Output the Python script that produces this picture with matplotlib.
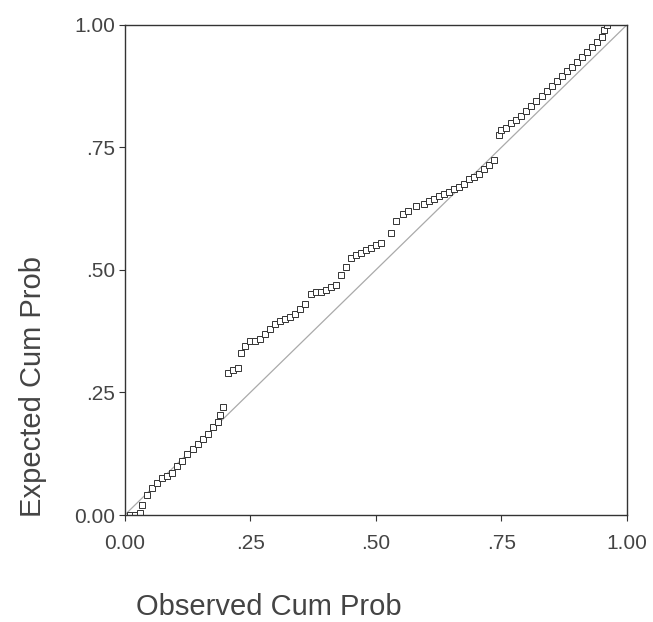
import numpy as np
import matplotlib.pyplot as plt

# Observed vs expected cumulative probabilities
observed = [0.010, 0.020, 0.030, 0.035,
            0.045, 0.055, 0.065, 0.075, 0.085, 0.095, 0.105, 0.115, 0.125,
            0.135, 0.145, 0.155, 0.165, 0.175, 0.185, 0.190, 0.195,
            0.205, 0.215, 0.225, 0.232, 0.240, 0.250, 0.260, 0.270, 0.280,
            0.290, 0.300, 0.310, 0.320, 0.330, 0.340, 0.350, 0.360,
            0.370, 0.380, 0.390, 0.400, 0.410, 0.420,
            0.430, 0.440, 0.450, 0.460, 0.470, 0.480, 0.490, 0.500, 0.510,
            0.530, 0.540, 0.555, 0.565, 0.580,
            0.595, 0.605, 0.615, 0.625, 0.635, 0.645, 0.655, 0.665, 0.675,
            0.685, 0.695, 0.705, 0.715, 0.725, 0.735,
            0.745, 0.750, 0.760, 0.770, 0.780, 0.790, 0.800, 0.810, 0.820,
            0.830, 0.840, 0.850, 0.860, 0.870, 0.880, 0.890, 0.900, 0.910,
            0.920, 0.930, 0.940, 0.950, 0.955, 0.960]
expected = [0.000, 0.000, 0.005, 0.020,
            0.040, 0.055, 0.065, 0.075, 0.080, 0.085, 0.100, 0.110, 0.125,
            0.135, 0.145, 0.155, 0.165, 0.180, 0.190, 0.205, 0.220,
            0.290, 0.295, 0.300, 0.330, 0.345, 0.355, 0.355, 0.360, 0.370,
            0.380, 0.390, 0.395, 0.400, 0.405, 0.410, 0.420, 0.430,
            0.450, 0.455, 0.455, 0.460, 0.465, 0.470,
            0.490, 0.505, 0.525, 0.530, 0.535, 0.540, 0.545, 0.550, 0.555,
            0.575, 0.600, 0.615, 0.620, 0.630,
            0.635, 0.640, 0.645, 0.650, 0.655, 0.660, 0.665, 0.670, 0.675,
            0.685, 0.690, 0.695, 0.705, 0.715, 0.725,
            0.775, 0.785, 0.790, 0.800, 0.805, 0.815, 0.825, 0.835, 0.845,
            0.855, 0.865, 0.875, 0.885, 0.895, 0.905, 0.915, 0.925, 0.935,
            0.945, 0.955, 0.965, 0.975, 0.990, 1.000]

tick_vals = [0.0, 0.25, 0.5, 0.75, 1.0]
tick_labels = ['0.00', '.25', '.50', '.75', '1.00']

plt.rcParams['font.family'] = ['Liberation Sans', 'DejaVu Sans']

fig = plt.figure(figsize=(6.53, 6.22), dpi=100)
ax = fig.add_axes([0.191, 0.172, 0.769, 0.788])

# diagonal reference line
ax.plot([0, 1], [0, 1], color='#aaaaaa', lw=0.9, zorder=1)
ax.plot(observed, expected, ls='none', marker='s', ms=3.8, mfc='white',
        mec='#333333', mew=0.7, zorder=2)

ax.set_xlim(0, 1)
ax.set_ylim(0, 1)
ax.set_xticks(tick_vals)
ax.set_xticklabels(tick_labels)
ax.set_yticks(tick_vals)
ax.set_yticklabels(tick_labels)
ax.tick_params(direction='out', length=4, width=0.8, color='#333333',
               labelsize=15, labelcolor='#444444')
ax.tick_params(axis='x', pad=10)
ax.tick_params(axis='y', pad=3)
for s in ax.spines.values():
    s.set_color('#333333')
    s.set_linewidth(1.0)

ax.set_xlabel('Observed Cum Prob', fontsize=21, color='#444444')
ax.xaxis.set_label_coords(0.287, -0.159)
ax.set_ylabel('Expected Cum Prob', fontsize=21, color='#444444', va='center')
ax.yaxis.set_label_coords(-0.183, 0.263)

fig.savefig('out.png', dpi=100, facecolor='white')
